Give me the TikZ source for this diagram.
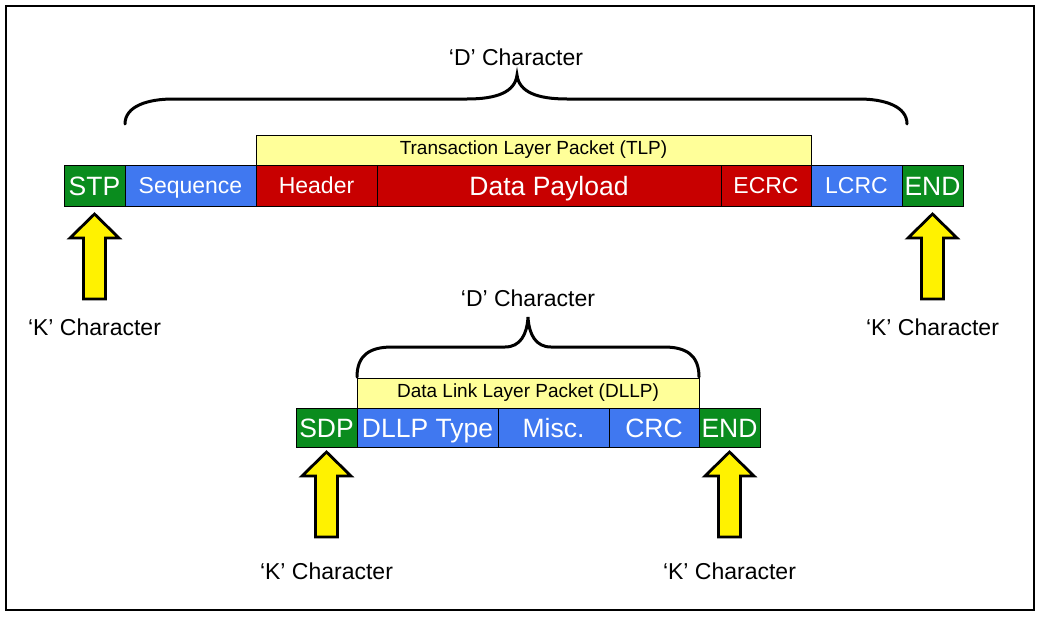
\documentclass[tikz,border=0pt]{standalone}
\usepackage{fontspec}
\setmainfont{Liberation Sans}
\usetikzlibrary{positioning}

\definecolor{pcigreen}{RGB}{10,140,30}
\definecolor{pciblue}{RGB}{64,120,240}
\definecolor{pcired}{RGB}{200,0,0}
\definecolor{pciyellow}{RGB}{255,255,153}

\tikzset{
  field/.style={draw=black, line width=1pt, inner sep=0pt, outer sep=0pt,
    text=white, text height=16.5pt, text depth=0pt,
    font=\fontsize{23}{27}\selectfont},
  bigtext/.style={text height=19pt, font=\fontsize{26.5}{30}\selectfont},
  kfield/.style={field, bigtext, fill=pcigreen},
  linkfield/.style={field, fill=pciblue},
  tlpfield/.style={field, fill=pcired},
  layerbox/.style={draw=black, line width=1pt, fill=pciyellow, inner sep=0pt,
    outer sep=0pt, minimum height=30pt, font=\fontsize{19}{23}\selectfont},
  charlabel/.style={font=\fontsize{23}{27}\selectfont},
  karrow/.style={draw=black, line width=2.8pt, fill=yellow, line join=miter},
  curlybrace/.style={draw=black, line width=3pt, line cap=round}
}

\begin{document}
\begin{tikzpicture}[x=1pt,y=-1pt]
  \useasboundingbox (0,0) rectangle (1040,616);
  % Frame
  \draw[line width=2.6pt] (6,6) rectangle (1034,610);

  % TLP framing
  \node[kfield, minimum width=61pt, minimum height=41pt] (stp) at (94.5,185.5) {STP};
  \node[linkfield, minimum width=131pt, minimum height=41pt, right=0pt of stp] (seq) {Sequence};
  \node[tlpfield, minimum width=121pt, minimum height=41pt, right=0pt of seq] (hdr) {Header};
  \node[tlpfield, bigtext, minimum width=344pt, minimum height=41pt, right=0pt of hdr] (data) {Data Payload};
  \node[tlpfield, minimum width=90pt, minimum height=41pt, right=0pt of data] (ecrc) {ECRC};
  \node[linkfield, minimum width=91pt, minimum height=41pt, right=0pt of ecrc] (lcrc) {LCRC};
  \node[kfield, minimum width=61pt, minimum height=41pt, right=0pt of lcrc] (tend) {END};
  \node[layerbox, minimum width=555pt, anchor=south west] (tlp) at (hdr.north west)
    {Transaction Layer Packet (TLP)};

  % DLLP framing
  \node[kfield, minimum width=61pt, minimum height=39pt] (sdp) at (326.5,427.5) {SDP};
  \node[linkfield, bigtext, minimum width=141pt, minimum height=39pt, right=0pt of sdp] (type) {DLLP Type};
  \node[linkfield, bigtext, minimum width=111pt, minimum height=39pt, right=0pt of type] (misc) {Misc.};
  \node[linkfield, bigtext, minimum width=90pt, minimum height=39pt, right=0pt of misc] (crc) {CRC};
  \node[kfield, minimum width=61pt, minimum height=39pt, right=0pt of crc] (dend) {END};
  \node[layerbox, minimum width=342pt, anchor=south west] (dllp) at (type.north west)
    {Data Link Layer Packet (DLLP)};

  % Braces
  \draw[curlybrace] (125,124) .. controls (125,106) and (148,99) .. (173,99) -- (467,99)
    .. controls (497,99) and (515,92) .. (517,75) .. controls (519,92) and (537,99) .. (567,99)
    -- (859,99) .. controls (884,99) and (907,106) .. (907,124);
  \draw[curlybrace] (357,377) .. controls (357,355) and (370,347) .. (392,347) -- (505,347)
    .. controls (520,347) and (527,335) .. (528,317) .. controls (529,335) and (536,347) .. (551,347)
    -- (664,347) .. controls (686,347) and (699,355) .. (699,377);
  \node[charlabel] (dtop) at (516,57) {‘D’ Character};
  \node[charlabel] (dbot) at (528,298) {‘D’ Character};

  % K character arrows
  \foreach \x/\y in {94.5/214, 932.5/214, 326.5/452, 729.5/452}
    \draw[karrow] (\x,\y) -- ++(24.5,24) -- ++(-13.5,0) -- ++(0,61) -- ++(-22,0)
      -- ++(0,-61) -- ++(-13.5,0) -- cycle;
  \node[charlabel] (k1) at (94.5,327) {‘K’ Character};
  \node[charlabel] (k2) at (932.5,327) {‘K’ Character};
  \node[charlabel] (k3) at (326.5,571) {‘K’ Character};
  \node[charlabel] (k4) at (729.5,571) {‘K’ Character};
\end{tikzpicture}
\end{document}
